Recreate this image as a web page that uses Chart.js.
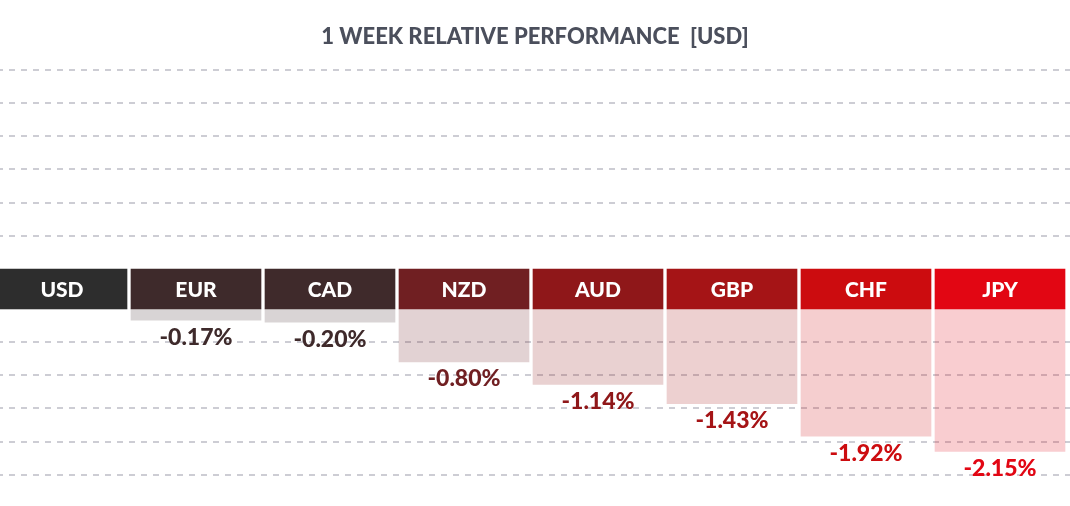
<!DOCTYPE html>
<html><head><meta charset="utf-8">
<script src="https://cdn.jsdelivr.net/npm/chart.js@4.4.1/dist/chart.umd.min.js"></script>
<style>html,body{margin:0;padding:0;background:#fff;overflow:hidden}</style>
</head><body>
<canvas id="c" width="1070" height="506"></canvas>
<script>
const categories = ['USD', 'EUR', 'CAD', 'NZD', 'AUD', 'GBP', 'CHF', 'JPY'];
const changes = [0, -0.17, -0.20, -0.80, -1.14, -1.43, -1.92, -2.15];
const headerColors = ['#2d2d2d', '#3e2a2b', '#3f2a2b', '#701f22', '#8f1719', '#a51416', '#cc0c0f', '#e20613'];
const gridValues = [-2.5, -2, -1.5, -1, -0.5, 1.1, 1.6, 2.1, 2.6, 3.1, 3.6];
const titleText = '1 WEEK RELATIVE PERFORMANCE  [USD]';

const HEADER_SPAN = 0.6;

const labelPlugin = {
  id: 'labels',
  afterDatasetsDraw(chart) {
    const ctx = chart.ctx;
    const hm = chart.getDatasetMeta(0), vm = chart.getDatasetMeta(1);
    ctx.save();
    ctx.textAlign = 'center';
    ctx.textBaseline = 'middle';
    ctx.font = '900 21px Lato';
    ctx.fillStyle = '#ffffff';
    hm.data.forEach((el, i) => {
      ctx.fillText(categories[i], el.x, (el.y + el.base) / 2 + 1);
    });
    ctx.font = '900 23px Lato';
    vm.data.forEach((el, i) => {
      if (changes[i] === 0) return;
      ctx.fillStyle = headerColors[i];
      ctx.fillText(changes[i].toFixed(2) + '%', el.x, el.y + 17);
    });
    ctx.restore();
  }
};

new Chart(document.getElementById('c'), {
  type: 'bar',
  data: {
    labels: categories,
    datasets: [
      {
        data: categories.map((c, i) => ({ x: i, y: [0, HEADER_SPAN] })),
        backgroundColor: headerColors,
        borderWidth: 0,
        grouped: false,
        barThickness: 130
      },
      {
        data: changes.map((v, i) => ({ x: i, y: v })),
        backgroundColor: headerColors.map(c => c + '33'),
        borderWidth: 0,
        grouped: false,
        barThickness: 130
      }
    ]
  },
  options: {
    responsive: false,
    animation: false,
    events: [],
    layout: { padding: { left: 0, right: 0, top: 0, bottom: 18 } },
    plugins: {
      legend: { display: false },
      tooltip: { enabled: false },
      title: {
        display: true,
        text: titleText,
        color: '#4b4f5c',
        font: { family: 'Lato', size: 22, weight: '900' },
        padding: { top: 23.5, bottom: 10.1 }
      }
    },
    scales: {
      x: {
        type: 'linear',
        display: false,
        offset: false,
        grid: { offset: false },
        min: -62 / 134,
        max: -62 / 134 + 1070 / 134
      },
      y: {
        type: 'linear',
        min: -2.7,
        max: 3.75,
        afterBuildTicks(scale) { scale.ticks = gridValues.map(v => ({ value: v })); },
        ticks: { display: false },
        grid: { drawTicks: false, color: '#cdcdd4', lineWidth: 2 },
        border: { display: false, dash: [6, 6], dashOffset: 3 }
      }
    }
  },
  plugins: [labelPlugin]
});
</script>
</body></html>
